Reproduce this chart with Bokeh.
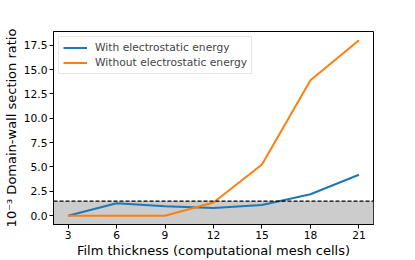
from bokeh.plotting import figure
from bokeh.models import FixedTicker, NumeralTickFormatter, BoxAnnotation, Span, Legend, LegendItem, Range1d
from bokeh.embed import file_html
from bokeh.resources import INLINE

thickness = [3, 6, 9, 12, 15, 18, 21]
with_es = [0.0, 1.28, 0.96, 0.8, 1.1, 2.2, 4.2]
without_es = [0.0, 0.0, 0.0, 1.35, 5.25, 13.9, 18.0]
threshold = 1.5
x_ticks = [3, 6, 9, 12, 15, 18, 21]
y_ticks = [0.0, 2.5, 5.0, 7.5, 10.0, 12.5, 15.0, 17.5]

FONT = "DejaVu Sans"

p = figure(width=415, height=260, output_backend="svg", toolbar_location=None,
           x_range=Range1d(2.1, 21.9), y_range=Range1d(-0.9, 18.9),
           min_border_top=31, min_border_right=42, min_border_left=52, min_border_bottom=10)

p.add_layout(BoxAnnotation(top=threshold, fill_color="#cccccc", fill_alpha=1.0,
                           line_color=None, level="underlay"))
p.add_layout(Span(location=threshold, dimension="width", line_color="black",
                  line_dash="4 2", line_width=1.2))

r1 = p.line(thickness, with_es, line_color="#1f77b4", line_width=2)
r2 = p.line(thickness, without_es, line_color="#ff7f0e", line_width=2)

legend = Legend(items=[LegendItem(label="With electrostatic energy", renderers=[r1]),
                       LegendItem(label="Without electrostatic energy", renderers=[r2])],
                location="top_left")
legend.label_text_font = FONT
legend.label_text_font_size = "10.7px"
legend.border_line_color = "#d0d0d0"
legend.border_line_width = 1
legend.background_fill_alpha = 0.8
legend.glyph_width = 24
legend.glyph_height = 13
legend.label_height = 13
legend.spacing = 2
legend.padding = 4
legend.margin = 5
legend.label_standoff = 8
p.add_layout(legend)

p.xgrid.visible = False
p.ygrid.visible = False
p.outline_line_color = "black"
p.outline_line_width = 1

for ax in (p.xaxis[0], p.yaxis[0]):
    ax.axis_line_color = "black"
    ax.major_tick_line_color = "black"
    ax.minor_tick_line_color = None
    ax.major_tick_out = 4
    ax.major_tick_in = 0
    ax.major_label_text_font = FONT
    ax.major_label_text_font_size = "10.7px"
    ax.major_label_text_color = "black"
    ax.axis_label_text_font = FONT
    ax.axis_label_text_font_size = "13px"
    ax.axis_label_text_font_style = "normal"
    ax.axis_label_text_color = "black"
    ax.major_label_standoff = 2
    ax.axis_label_standoff = 1

p.yaxis[0].axis_label_standoff = 2
p.xaxis[0].ticker = FixedTicker(ticks=x_ticks)
p.yaxis[0].ticker = FixedTicker(ticks=y_ticks)
p.yaxis[0].formatter = NumeralTickFormatter(format="0.0")
p.xaxis[0].axis_label = "Film thickness (computational mesh cells)"
p.yaxis[0].axis_label = "10⁻³ Domain-wall section ratio"

open("out.html", "w").write(file_html(p, INLINE))
